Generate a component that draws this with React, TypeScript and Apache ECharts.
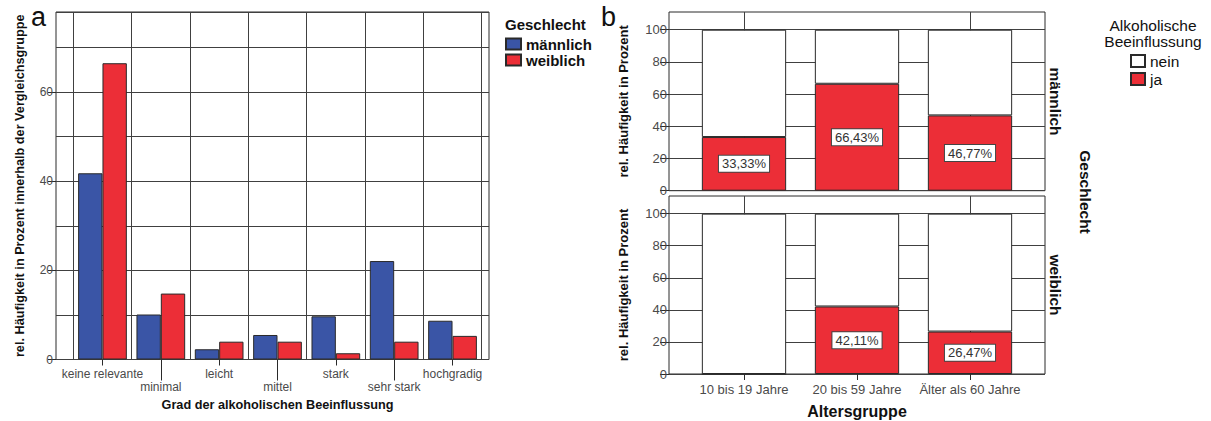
import React, { useEffect, useRef } from "react";
import * as echarts from "echarts";

// ---- Panel a data ----
const gradCategories = ["keine relevante", "minimal", "leicht", "mittel", "stark", "sehr stark", "hochgradig"];
const maennlichValues = [41.8, 10.1, 2.3, 5.5, 9.7, 22.1, 8.7];
const weiblichValues = [66.5, 14.8, 4.0, 4.0, 1.4, 4.0, 5.3];
const leftYMax = 78;

// ---- Panel b data ----
const ageGroups = ["10 bis 19 Jahre", "20 bis 59 Jahre", "Älter als 60 Jahre"];
const jaMaennlich = [33.33, 66.43, 46.77];
const neinMaennlich = [66.67, 33.57, 53.23];
const jaWeiblich = [0, 42.11, 26.47];
const neinWeiblich = [100, 57.89, 73.53];
const rightYMax = 111;

const BLUE = "#3a55a6";
const RED = "#ec2e37";
const GRID = "#404040";
const BORDER = "#2a2a2a";
const LABEL = "#4a4a4a";
const FONT = "'Liberation Sans', Arial, sans-serif";

const fmtPct = (p: any) => Number(p.value).toFixed(2).replace(".", ",") + "%";

const barLabel = {
  show: true,
  position: "inside",
  formatter: fmtPct,
  backgroundColor: "#fff",
  borderColor: "#444",
  borderWidth: 1,
  padding: [2, 3, 1, 3],
  color: "#333",
  fontSize: 13,
  fontFamily: FONT,
};

const jaData = (arr: number[]) => arr.map((v) => ({ value: v, label: { show: v > 0 } }));

const TOP_H = 178.7;
const BOT_H = 178;

export default function App() {
  const ref = useRef<HTMLDivElement>(null);
  useEffect(() => {
    if (!ref.current) return;
    const chart = echarts.init(ref.current, undefined, { renderer: "svg" });
    const hiddenValueX = (gridIndex: number) => ({ type: "value", gridIndex, min: 0, max: 1, show: false });
    const centerLinesX = (gridIndex: number, h: number) => ({
      type: "category",
      gridIndex,
      data: ageGroups,
      position: "bottom",
      axisLine: { show: false },
      axisTick: { show: true, alignWithLabel: true, inside: true, length: h, lineStyle: { color: GRID, width: 1 } },
      axisLabel: { show: false },
      splitLine: { show: false },
    });
    const rightY = (gridIndex: number) => ({
      type: "value",
      gridIndex,
      min: 0,
      max: rightYMax,
      interval: 20,
      axisLine: { show: false },
      axisTick: { show: true, length: 9, lineStyle: { color: BORDER } },
      axisLabel: { color: LABEL, fontSize: 13, margin: 2, showMaxLabel: false },
      splitLine: { show: true, showMaxLine: false, lineStyle: { color: GRID, width: 1 } },
      name: "rel. Häufigkeit in Prozent",
      nameLocation: "middle",
      nameRotate: 90,
      nameGap: 39,
      nameTextStyle: { fontWeight: "bold", fontSize: 13, color: "#111" },
    });
    const option: any = {
      animation: false,
      backgroundColor: "#fff",
      textStyle: { fontFamily: FONT },
      grid: [
        { left: 56, top: 12, width: 433, height: 347.5, show: true, borderColor: BORDER, borderWidth: 1 },
        { left: 73.3, top: 12, width: 408.4, height: 347.5 },
        { left: 669, top: 12, width: 376, height: TOP_H, show: true, borderColor: BORDER, borderWidth: 1 },
        { left: 687.5, top: 12, width: 339, height: TOP_H },
        { left: 669, top: 196, width: 376, height: BOT_H, show: true, borderColor: BORDER, borderWidth: 1 },
        { left: 687.5, top: 196, width: 339, height: BOT_H },
      ],
      xAxis: [
        hiddenValueX(0),
        {
          type: "category",
          gridIndex: 1,
          data: gradCategories,
          axisLine: { show: false },
          axisTick: { show: true, alignWithLabel: true, interval: (i: number) => i % 2 === 0, length: 6, lineStyle: { color: BORDER } },
          axisLabel: {
            interval: 0,
            color: LABEL,
            fontSize: 12,
            lineHeight: 13,
            margin: 8,
            formatter: (v: string, i: number) => (i % 2 === 1 ? "\n" + v : v),
          },
          splitLine: { show: true, lineStyle: { color: GRID, width: 1 } },
          name: "Grad der alkoholischen Beeinflussung",
          nameLocation: "middle",
          nameGap: 39,
          nameTextStyle: { fontWeight: "bold", fontSize: 12.7, color: "#111" },
        },
        {
          type: "category",
          gridIndex: 1,
          data: gradCategories,
          position: "bottom",
          axisLine: { show: false },
          axisTick: { show: true, alignWithLabel: true, interval: (i: number) => i % 2 === 1, length: 21, lineStyle: { color: BORDER } },
          axisLabel: { show: false },
          splitLine: { show: false },
        },
        hiddenValueX(2),
        centerLinesX(3, TOP_H),
        hiddenValueX(4),
        {
          type: "category",
          gridIndex: 5,
          data: ageGroups,
          axisLine: { show: false },
          axisTick: { show: true, alignWithLabel: true, length: 6, lineStyle: { color: BORDER } },
          axisLabel: { interval: 0, color: LABEL, fontSize: 13, margin: 9 },
          splitLine: { show: false },
          name: "Altersgruppe",
          nameLocation: "middle",
          nameGap: 29,
          nameTextStyle: { fontWeight: "bold", fontSize: 16, color: "#111" },
        },
        centerLinesX(5, BOT_H),
      ],
      yAxis: [
        {
          type: "value",
          gridIndex: 0,
          min: 0,
          max: leftYMax,
          interval: 20,
          axisLine: { show: false },
          axisTick: { show: true, length: 8, lineStyle: { color: BORDER } },
          axisLabel: { color: LABEL, fontSize: 12, margin: 3, showMaxLabel: false },
          splitLine: { show: false },
          name: "rel. Häufigkeit in Prozent innerhalb der Vergleichsgruppe",
          nameLocation: "middle",
          nameRotate: 90,
          nameGap: 30,
          nameTextStyle: { fontWeight: "bold", fontSize: 12.7, color: "#111" },
        },
        {
          type: "value",
          gridIndex: 0,
          min: 0,
          max: leftYMax,
          interval: 10,
          axisLine: { show: false },
          axisTick: { show: false },
          axisLabel: { show: false },
          splitLine: { show: true, lineStyle: { color: GRID, width: 1 } },
        },
        { type: "value", gridIndex: 1, min: 0, max: leftYMax, show: false },
        rightY(2),
        { type: "value", gridIndex: 3, min: 0, max: rightYMax, show: false },
        rightY(4),
        { type: "value", gridIndex: 5, min: 0, max: rightYMax, show: false },
      ],
      legend: [
        {
          data: ["männlich", "weiblich"],
          orient: "vertical",
          left: 505,
          top: 36.5,
          icon: "rect",
          itemWidth: 15,
          itemHeight: 11,
          itemGap: 1,
          padding: 0,
          textStyle: { fontWeight: "bold", fontSize: 15, color: "#111", lineHeight: 15, fontFamily: FONT },
          selectedMode: false,
        },
        {
          data: ["nein", "ja"],
          orient: "vertical",
          left: 1130,
          top: 53,
          icon: "rect",
          itemWidth: 14,
          itemHeight: 12,
          itemGap: 2,
          padding: 0,
          textStyle: { fontSize: 15.5, color: "#111", lineHeight: 16, fontFamily: FONT },
          selectedMode: false,
        },
      ],
      series: [
        {
          name: "männlich",
          type: "bar",
          xAxisIndex: 1,
          yAxisIndex: 2,
          data: maennlichValues,
          barGap: "0%",
          barCategoryGap: "16.5%",
          itemStyle: { color: BLUE, borderColor: BORDER, borderWidth: 1 },
        },
        {
          name: "weiblich",
          type: "bar",
          xAxisIndex: 1,
          yAxisIndex: 2,
          data: weiblichValues,
          barGap: "0%",
          barCategoryGap: "16.5%",
          itemStyle: { color: RED, borderColor: BORDER, borderWidth: 1 },
        },
        {
          name: "ja",
          type: "bar",
          xAxisIndex: 4,
          yAxisIndex: 4,
          stack: "m",
          barWidth: "74.6%",
          data: jaData(jaMaennlich),
          itemStyle: { color: RED, borderColor: BORDER, borderWidth: 1 },
          label: barLabel,
        },
        {
          name: "nein",
          type: "bar",
          xAxisIndex: 4,
          yAxisIndex: 4,
          stack: "m",
          barWidth: "74.6%",
          data: neinMaennlich,
          itemStyle: { color: "#fff", borderColor: BORDER, borderWidth: 1 },
        },
        {
          name: "ja",
          type: "bar",
          xAxisIndex: 6,
          yAxisIndex: 6,
          stack: "w",
          barWidth: "74.6%",
          data: jaData(jaWeiblich),
          itemStyle: { color: RED, borderColor: BORDER, borderWidth: 1 },
          label: barLabel,
        },
        {
          name: "nein",
          type: "bar",
          xAxisIndex: 6,
          yAxisIndex: 6,
          stack: "w",
          barWidth: "74.6%",
          data: neinWeiblich,
          itemStyle: { color: "#fff", borderColor: BORDER, borderWidth: 1 },
        },
      ],
      graphic: [
        { type: "text", x: 31, y: 3, style: { text: "a", fontSize: 27, fontFamily: FONT, fill: "#111" } },
        { type: "text", x: 601, y: 3, style: { text: "b", fontSize: 27, fontFamily: FONT, fill: "#111" } },
        {
          type: "text",
          x: 505,
          y: 24,
          style: { text: "Geschlecht", fontSize: 15, fontWeight: "bold", fontFamily: FONT, fill: "#111", verticalAlign: "middle", textVerticalAlign: "middle" },
        },
        {
          type: "text",
          x: 1153,
          y: 17,
          style: {
            text: "Alkoholische\nBeeinflussung",
            fontSize: 15.5,
            lineHeight: 16,
            fontFamily: FONT,
            fill: "#111",
            align: "center",
            textAlign: "center",
            verticalAlign: "top",
            textVerticalAlign: "top",
          },
        },
        {
          type: "text",
          x: 1055,
          y: 101.5,
          rotation: -Math.PI / 2,
          style: { text: "männlich", fontSize: 15.5, fontWeight: "bold", fontFamily: FONT, fill: "#111", align: "center", textAlign: "center", verticalAlign: "middle", textVerticalAlign: "middle" },
        },
        {
          type: "text",
          x: 1055,
          y: 285,
          rotation: -Math.PI / 2,
          style: { text: "weiblich", fontSize: 15.5, fontWeight: "bold", fontFamily: FONT, fill: "#111", align: "center", textAlign: "center", verticalAlign: "middle", textVerticalAlign: "middle" },
        },
        {
          type: "text",
          x: 1085,
          y: 192,
          rotation: -Math.PI / 2,
          style: { text: "Geschlecht", fontSize: 15.5, fontWeight: "bold", fontFamily: FONT, fill: "#111", align: "center", textAlign: "center", verticalAlign: "middle", textVerticalAlign: "middle" },
        },
      ],
    };
    chart.setOption(option);
    return () => chart.dispose();
  }, []);
  return <div ref={ref} style={{ position: "fixed", left: 0, top: 0, width: 1211, height: 421 }} />;
}
